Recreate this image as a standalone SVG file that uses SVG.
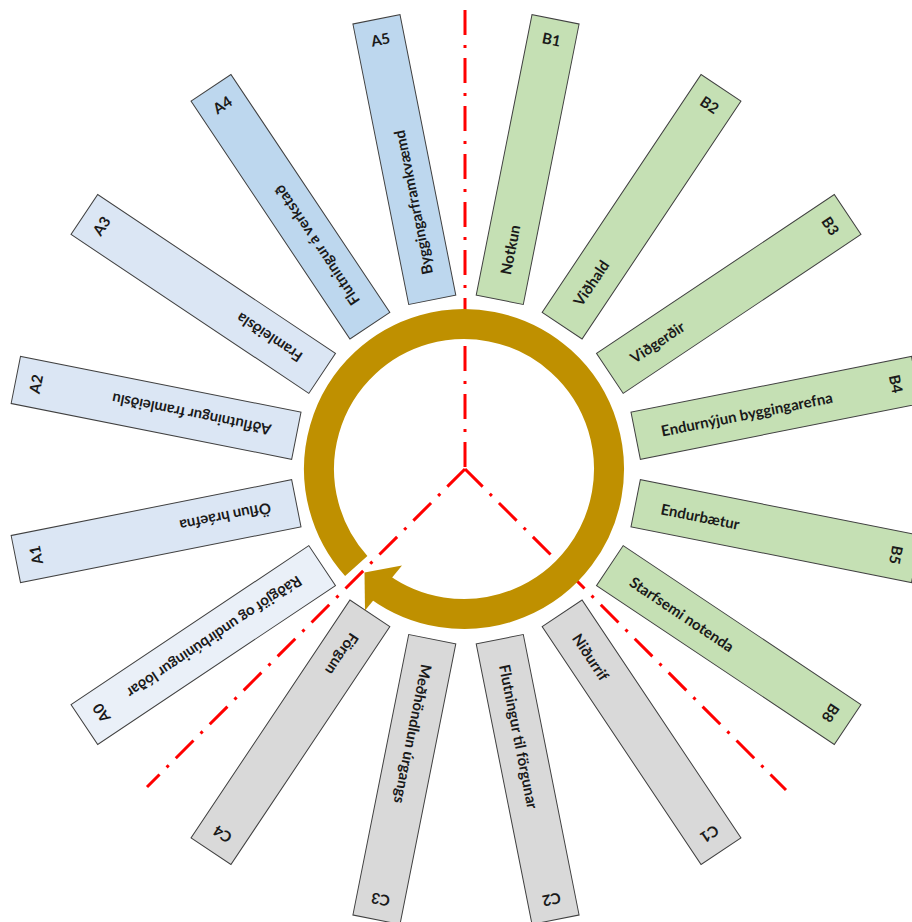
<svg xmlns="http://www.w3.org/2000/svg" width="912" height="922" viewBox="0 0 912 922">
<style>
.box{stroke:#404040;stroke-width:1}
.a0{fill:#EAF0F8}
.a{fill:#DBE6F4}
.ad{fill:#BDD7EE}
.b{fill:#C5E0B4}
.c{fill:#D9D9D9}
text{font-family:Lato,"Liberation Sans",sans-serif;font-weight:bold;font-size:15px;fill:#1a1a1a}
.t{text-anchor:start;dominant-baseline:central}
.l{text-anchor:middle;dominant-baseline:central}
.axis{stroke:#FF0000;stroke-width:3;stroke-dasharray:25 10 3 10;fill:none}
</style>
<rect width="912" height="922" fill="#ffffff"/>
<g id="axes">
<line class="axis" x1="465" y1="10" x2="465" y2="469"/>
<line class="axis" x1="465" y1="469" x2="147" y2="787"/>
<line class="axis" x1="465" y1="469" x2="786" y2="790"/>
</g>
<g id="B1" transform="translate(466,469.5) rotate(11.25)"><rect class="box b" x="-24" y="-459" width="48" height="286"/><text class="t" transform="translate(0,-199) rotate(-90)">Notkun</text><text class="l" x="0" y="-439">B1</text></g>
<g id="B2" transform="translate(466,469.5) rotate(33.75)"><rect class="box b" x="-24" y="-459" width="48" height="286"/><text class="t" transform="translate(0,-199) rotate(-90)">Viðhald</text><text class="l" x="0" y="-439">B2</text></g>
<g id="B3" transform="translate(466,469.5) rotate(56.25)"><rect class="box b" x="-24" y="-459" width="48" height="286"/><text class="t" transform="translate(0,-199) rotate(-90)">Viðgerðir</text><text class="l" x="0" y="-439">B3</text></g>
<g id="B4" transform="translate(466,469.5) rotate(78.75)"><rect class="box b" x="-24" y="-459" width="48" height="286"/><text class="t" transform="translate(0,-199) rotate(-90)">Endurnýjun byggingarefna</text><text class="l" x="0" y="-439">B4</text></g>
<g id="B5" transform="translate(466,469.5) rotate(101.25)"><rect class="box b" x="-24" y="-459" width="48" height="286"/><text class="t" transform="translate(0,-199) rotate(-90)">Endurbætur</text><text class="l" x="0" y="-439">B5</text></g>
<g id="B8" transform="translate(466,469.5) rotate(123.75)"><rect class="box b" x="-24" y="-459" width="48" height="286"/><text class="t" transform="translate(0,-199) rotate(-90)">Starfsemi notenda</text><text class="l" x="0" y="-439">B8</text></g>
<g id="C1" transform="translate(466,469.5) rotate(146.25)"><rect class="box c" x="-24" y="-459" width="48" height="286"/><text class="t" transform="translate(0,-199) rotate(-90)">Niðurrif</text><text class="l" x="0" y="-439">C1</text></g>
<g id="C2" transform="translate(466,469.5) rotate(168.75)"><rect class="box c" x="-24" y="-459" width="48" height="286"/><text class="t" transform="translate(0,-199) rotate(-90)">Flutningur til förgunar</text><text class="l" x="0" y="-439">C2</text></g>
<g id="C3" transform="translate(466,469.5) rotate(191.25)"><rect class="box c" x="-24" y="-459" width="48" height="286"/><text class="t" transform="translate(0,-199) rotate(-90)">Meðhöndlun úrgangs</text><text class="l" x="0" y="-439">C3</text></g>
<g id="C4" transform="translate(466,469.5) rotate(213.75)"><rect class="box c" x="-24" y="-459" width="48" height="286"/><text class="t" transform="translate(0,-199) rotate(-90)">Förgun</text><text class="l" x="0" y="-439">C4</text></g>
<g id="A0" transform="translate(466,469.5) rotate(236.25)"><rect class="box a0" x="-24" y="-459" width="48" height="286"/><text class="t" transform="translate(0,-199) rotate(-90)">Ráðgjöf og undirbúningur lóðar</text><text class="l" x="0" y="-439">A0</text></g>
<g id="A1" transform="translate(466,469.5) rotate(258.75)"><rect class="box a" x="-24" y="-459" width="48" height="286"/><text class="t" transform="translate(0,-199) rotate(-90)">Öflun hráefna</text><text class="l" x="0" y="-439">A1</text></g>
<g id="A2" transform="translate(466,469.5) rotate(281.25)"><rect class="box a" x="-24" y="-459" width="48" height="286"/><text class="t" transform="translate(0,-199) rotate(-90)">Aðflutningur framleiðslu</text><text class="l" x="0" y="-439">A2</text></g>
<g id="A3" transform="translate(466,469.5) rotate(303.75)"><rect class="box a" x="-24" y="-459" width="48" height="286"/><text class="t" transform="translate(0,-199) rotate(-90)">Framleiðsla</text><text class="l" x="0" y="-439">A3</text></g>
<g id="A4" transform="translate(466,469.5) rotate(326.25)"><rect class="box ad" x="-24" y="-459" width="48" height="286"/><text class="t" transform="translate(0,-199) rotate(-90)">Flutningur á verkstað</text><text class="l" x="0" y="-439">A4</text></g>
<g id="A5" transform="translate(466,469.5) rotate(348.75)"><rect class="box ad" x="-24" y="-459" width="48" height="286"/><text class="t" transform="translate(0,-199) rotate(-90)">Byggingarframkvæmd</text><text class="l" x="0" y="-439">A5</text></g>
<g id="cycle">
<path d="M 356.24 566.02 A 145 145 0 1 1 378.77 586.31" stroke="#BF9000" stroke-width="30" fill="none"/>
<polygon points="402,565.5 365,610.5 364.5,572.5" fill="#BF9000"/>
</g>
</svg>
